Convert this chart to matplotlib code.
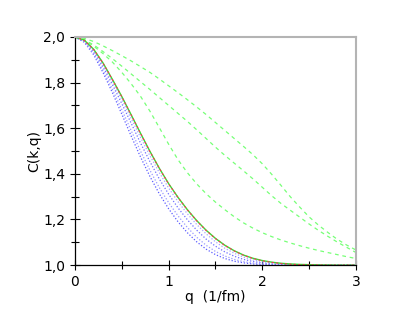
import matplotlib

matplotlib.use("Agg")
import matplotlib.pyplot as plt
from matplotlib.ticker import FuncFormatter, MultipleLocator

plt.rcParams["font.family"] = ["DejaVu Sans"]

# q grid (1/fm), 0.0 .. 3.0 in steps of 0.1
q = [0.0, 0.1, 0.2, 0.3, 0.4, 0.5, 0.6, 0.7, 0.8, 0.9, 1.0, 1.1, 1.2, 1.3, 1.4,
     1.5, 1.6, 1.7, 1.8, 1.9, 2.0, 2.1, 2.2, 2.3, 2.4, 2.5, 2.6, 2.7, 2.8, 2.9, 3.0]

c_red = [2.0, 1.985, 1.945, 1.885, 1.813, 1.738, 1.658, 1.577, 1.498, 1.424, 1.356,
         1.296, 1.242, 1.194, 1.152, 1.116, 1.086, 1.062, 1.043, 1.029, 1.019,
         1.012, 1.007, 1.004, 1.002, 1.001, 1.0005, 1.0, 1.0, 1.0, 1.0]
c_green = [2.0, 1.986, 1.946, 1.886, 1.814, 1.739, 1.659, 1.578, 1.499, 1.425, 1.357,
           1.297, 1.243, 1.195, 1.153, 1.117, 1.087, 1.063, 1.044, 1.030, 1.020,
           1.013, 1.008, 1.005, 1.003, 1.002, 1.001, 1.0005, 1.0, 1.0, 1.0]

c_blue = [
    [2.0, 1.977, 1.922, 1.844, 1.756, 1.662, 1.566, 1.474, 1.389, 1.313, 1.247,
     1.190, 1.142, 1.102, 1.070, 1.046, 1.029, 1.017, 1.010, 1.005, 1.002,
     1.001, 1.0005, 1.0, 1.0, 1.0, 1.0, 1.0, 1.0, 1.0, 1.0],
    [2.0, 1.979, 1.928, 1.855, 1.771, 1.682, 1.590, 1.500, 1.416, 1.340, 1.274,
     1.216, 1.165, 1.122, 1.087, 1.060, 1.040, 1.025, 1.015, 1.009, 1.0046,
     1.002, 1.001, 1.0005, 1.0, 1.0, 1.0, 1.0, 1.0, 1.0, 1.0],
    [2.0, 1.982, 1.936, 1.869, 1.791, 1.708, 1.622, 1.535, 1.454, 1.378, 1.311,
     1.251, 1.199, 1.153, 1.114, 1.083, 1.058, 1.039, 1.025, 1.016, 1.0095,
     1.0053, 1.0027, 1.0012, 1.0006, 1.0002, 1.0, 1.0, 1.0, 1.0, 1.0],
    [2.0, 1.984, 1.941, 1.879, 1.804, 1.726, 1.643, 1.560, 1.480, 1.406, 1.338,
     1.278, 1.225, 1.178, 1.137, 1.102, 1.074, 1.052, 1.035, 1.023, 1.015,
     1.009, 1.005, 1.003, 1.0015, 1.0007, 1.0003, 1.0, 1.0, 1.0, 1.0],
]
blue_colors = ["#5c5cff", "#9a9aff", "#6e6eff", "#a8a8ff"]

# dashed green curves on the same q grid
c_dash_a = [2.0, 1.994, 1.980, 1.961, 1.940, 1.918, 1.895, 1.870, 1.845, 1.816, 1.786,
            1.756, 1.725, 1.693, 1.660, 1.625, 1.590, 1.555, 1.520, 1.484, 1.444,
            1.398, 1.349, 1.299, 1.254, 1.211, 1.175, 1.143, 1.113, 1.088, 1.066]
c_dash_b = [2.0, 1.988, 1.965, 1.936, 1.905, 1.872, 1.838, 1.804, 1.770, 1.735, 1.700,
            1.665, 1.630, 1.593, 1.555, 1.517, 1.481, 1.447, 1.413, 1.378, 1.341,
            1.304, 1.270, 1.240, 1.210, 1.180, 1.152, 1.126, 1.101, 1.078, 1.055]
c_dash_c = [2.0, 1.987, 1.960, 1.927, 1.890, 1.845, 1.795, 1.740, 1.675, 1.603, 1.530,
            1.462, 1.405, 1.356, 1.313, 1.276, 1.243, 1.212, 1.185, 1.162, 1.142,
            1.125, 1.110, 1.097, 1.085, 1.074, 1.064, 1.055, 1.046, 1.037, 1.029]

fig = plt.figure(figsize=(4.14, 3.16), dpi=100)
ax = fig.add_axes([0.181, 0.161, 0.679, 0.722])

for cd in (c_dash_a, c_dash_b, c_dash_c):
    ax.plot(q, cd, color="#77ff77", lw=0.9, ls=(0, (3, 3)))
for cb, col in zip(c_blue, blue_colors):
    ax.plot(q, cb, color=col, lw=0.9, ls=(0, (1, 1.5)))
ax.plot(q, c_green, color="#33dd33", lw=1.0)
ax.plot(q, c_red, color="#ff3355", lw=0.8, ls=(0, (2, 2)))

ax.set_xlim(0, 3)
ax.set_ylim(1.0, 2.0)
ax.xaxis.set_major_locator(MultipleLocator(1))
ax.xaxis.set_minor_locator(MultipleLocator(0.5))
ax.yaxis.set_major_locator(MultipleLocator(0.2))
ax.yaxis.set_minor_locator(MultipleLocator(0.1))
ax.xaxis.set_major_formatter(FuncFormatter(lambda v, _: f"{v:.0f}"))
ax.yaxis.set_major_formatter(FuncFormatter(lambda v, _: f"{v:.1f}".replace(".", ",")))
ax.tick_params(which="major", direction="inout", length=7, width=0.8, labelsize=10,
               top=False, right=False)
ax.tick_params(which="minor", direction="inout", length=6, width=0.8, top=False, right=False)

for side in ("top", "right"):
    ax.spines[side].set_color("#b4b4b4")
    ax.spines[side].set_linewidth(1.5)
for side in ("left", "bottom"):
    ax.spines[side].set_color("black")
    ax.spines[side].set_linewidth(0.9)

ax.set_xlabel("q  (1/fm)", fontsize=10, labelpad=1)
ax.set_ylabel("C(k,q)", fontsize=10, labelpad=1)

fig.savefig("out.png", dpi=100)
